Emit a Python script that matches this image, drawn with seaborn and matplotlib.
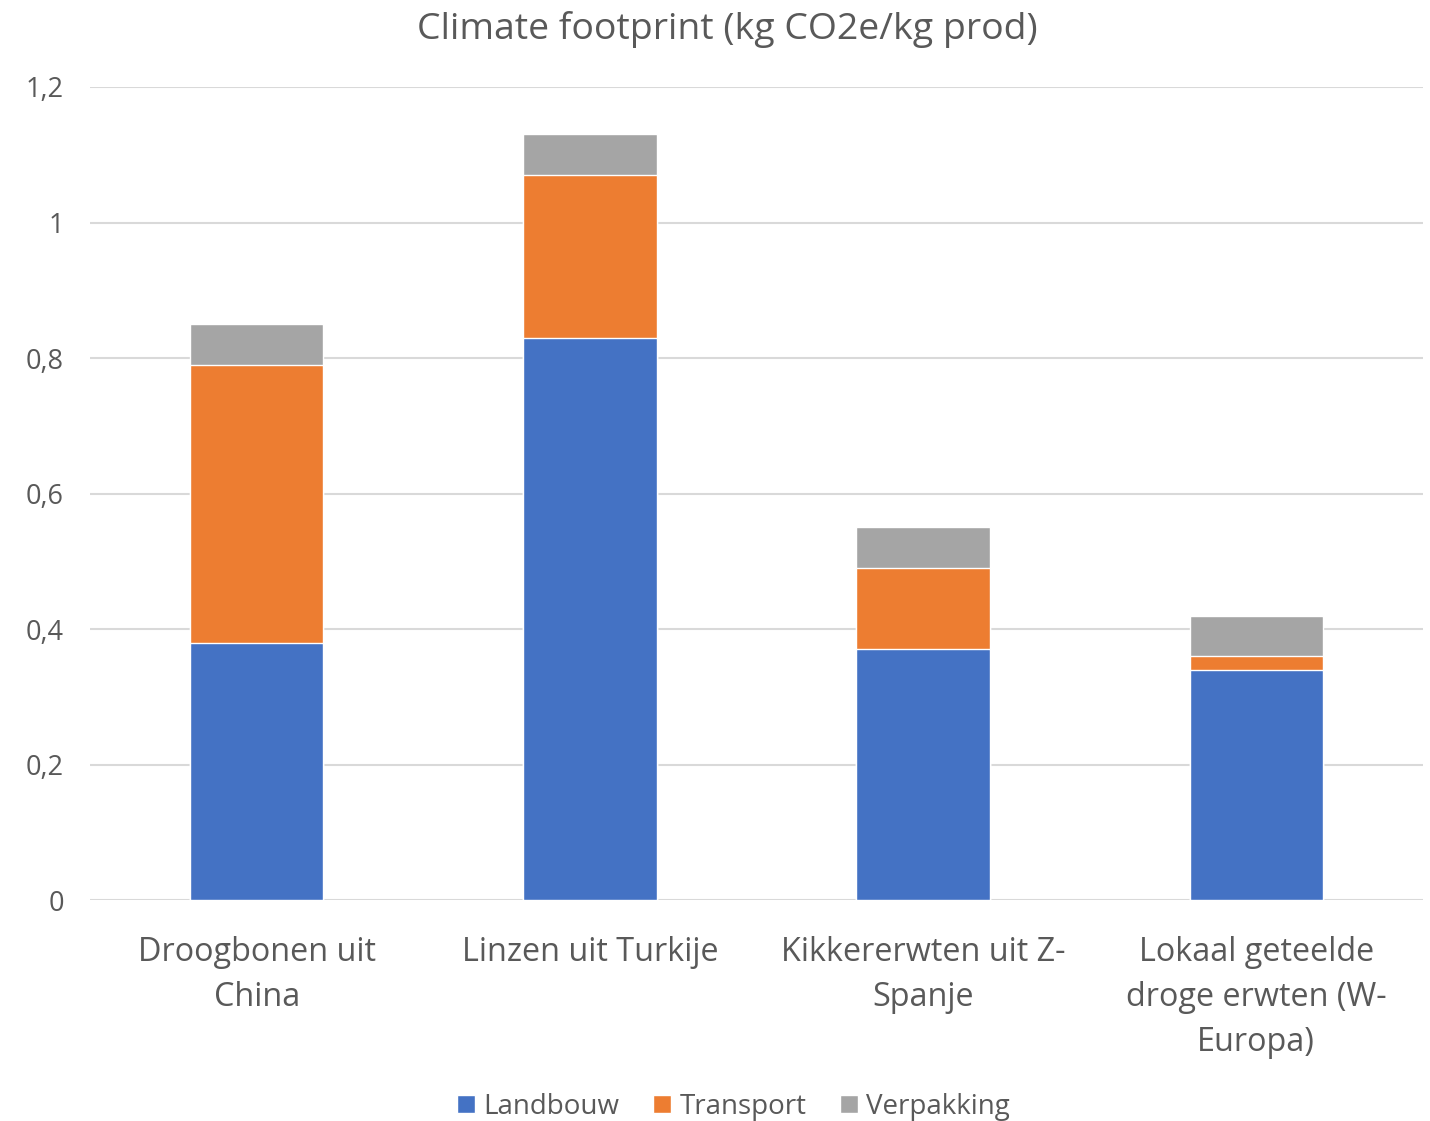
import pandas as pd
import matplotlib.pyplot as plt
import seaborn as sns
from matplotlib.patches import Patch

# Data
products = ['Droogbonen uit\nChina', 'Linzen uit Turkije',
            'Kikkererwten uit Z-\nSpanje', 'Lokaal geteelde\ndroge erwten (W-\nEuropa)']
landbouw = [0.38, 0.83, 0.37, 0.34]
transport = [0.41, 0.24, 0.12, 0.02]
verpakking = [0.06, 0.06, 0.06, 0.06]

series = ['Landbouw', 'Transport', 'Verpakking']
colors = ['#4472C4', '#ED7D31', '#A5A5A5']

df = pd.DataFrame({'product': products, 'Landbouw': landbouw,
                   'Transport': transport, 'Verpakking': verpakking})
df['lt'] = df['Landbouw'] + df['Transport']
df['total'] = df['lt'] + df['Verpakking']

sns.set_style('white')
plt.rcParams['font.family'] = ['Open Sans', 'DejaVu Sans']
text_color = '#595959'

fig = plt.figure(figsize=(14.3, 11.21), dpi=100)
ax = fig.add_axes([0.063, 0.197, 0.932, 0.7254])

# stacked bars drawn as overlapping cumulative totals
for col, c in zip(['total', 'lt', 'Landbouw'], [colors[2], colors[1], colors[0]]):
    sns.barplot(data=df, x='product', y=col, color=c, width=0.4,
                edgecolor='white', linewidth=1, saturation=1, ax=ax, zorder=3)

ax.set_ylim(0, 1.2)
ax.set_xlim(-0.5, 3.5)
yt = [0, 0.2, 0.4, 0.6, 0.8, 1.0, 1.2]
ax.set_yticks(yt)
ax.set_yticklabels(['0', '0,2', '0,4', '0,6', '0,8', '1', '1,2'])
ax.grid(axis='y', color='#D9D9D9', linewidth=1.5, zorder=0)
ax.set_axisbelow(True)
for s in ax.spines.values():
    s.set_visible(False)
ax.tick_params(axis='y', length=0, labelsize=19.5, labelcolor=text_color, pad=19)
ax.tick_params(axis='x', length=0, labelsize=23.3, labelcolor=text_color, pad=26)
ax.set_xlabel('')
ax.set_ylabel('')
for lab in ax.get_xticklabels():
    lab.set_linespacing(1.48)
    lab.set_verticalalignment('top')

fig.suptitle('Climate footprint (kg CO2e/kg prod)', x=0.5087, y=0.99,
             fontsize=26.9, color=text_color, va='top')

handles = [Patch(facecolor=c, label=s) for s, c in zip(series, colors)]
fig.legend(handles=handles, loc='lower center', bbox_to_anchor=(0.513, -0.022),
           ncol=3, frameon=False, fontsize=20, labelcolor=text_color,
           handlelength=0.65, handleheight=0.65, handletextpad=0.3, columnspacing=1.2)

fig.savefig('out.png', dpi=100)
